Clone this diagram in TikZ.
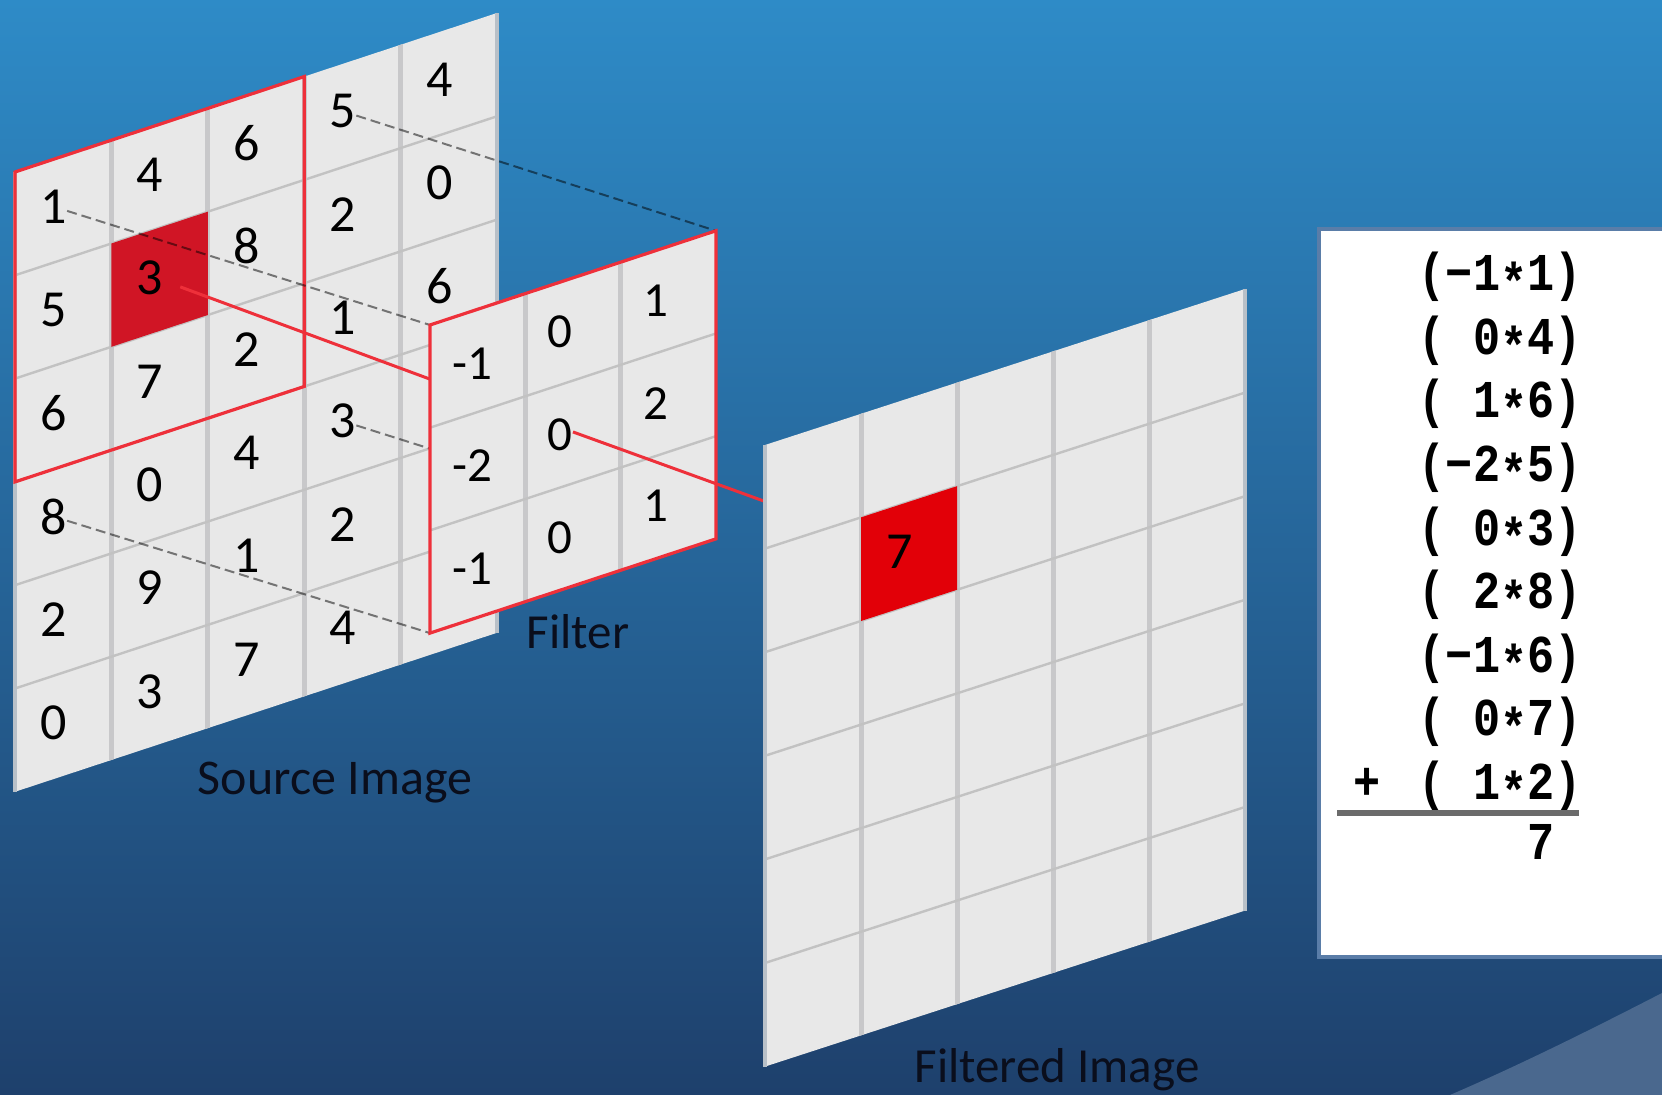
\documentclass[tikz,border=0pt]{standalone}
\usepackage{fontspec}
\setmainfont{Carlito}
\newfontfamily\monof{Liberation Mono}[FakeStretch=0.85]
\newcommand\mstar{\raisebox{-0.17em}{*}}
\usetikzlibrary{calc}
\definecolor{bgtop}{RGB}{46,139,199}
\definecolor{bgbot}{RGB}{30,64,108}
\definecolor{swoosh}{RGB}{74,104,142}
\definecolor{panel}{RGB}{232,232,232}
\definecolor{gridv}{RGB}{200,200,202}
\definecolor{gridh}{RGB}{194,194,194}
\definecolor{edgegray}{RGB}{184,192,200}
\definecolor{hlred}{RGB}{238,48,58}
\definecolor{cellred}{RGB}{208,21,37}
\definecolor{outred}{RGB}{226,0,8}
\definecolor{boxedge}{RGB}{90,125,168}
\definecolor{rulegray}{RGB}{107,107,107}
\definecolor{labelink}{RGB}{10,14,28}
\tikzset{
  srcgeo/.style={shift={(15,172)}, x={(48.2pt,15.9pt)}, y={(0pt,-51.65pt)}},
  filgeo/.style={shift={(430,325)}, x={(47.65pt,15.7pt)}, y={(0pt,-51.35pt)}},
  outgeo/.style={shift={(765,445)}, x={(48pt,15.6pt)}, y={(0pt,-51.8pt)}},
  vline/.style={draw=gridv, line width=2.5pt},
  hline/.style={draw=gridh, line width=1.2pt},
  pedge/.style={draw=edgegray, line width=1.8pt},
  redframe/.style={draw=hlred, line width=1.6pt, line join=miter},
  proj/.style={draw=black, draw opacity=0.5, line width=1pt, dash pattern=on 5pt off 2.5pt},
  redlink/.style={draw=hlred, line width=1.5pt},
  srcnum/.style={anchor=west, inner sep=0pt, text=black, font=\fontsize{26}{30}\selectfont, xshift=12.5pt, yshift=8.5pt},
  filnum/.style={anchor=west, inner sep=0pt, text=black, font=\fontsize{24.5}{28}\selectfont, xshift=11pt, yshift=6.5pt},
  lbl/.style={anchor=base, inner sep=0pt, text=labelink, font=\fontsize{24.5}{28}\selectfont},
  mono/.style={anchor=base east, inner sep=0pt, text=black, font=\monof\bfseries\fontsize{26.6}{30}\selectfont},
}
\begin{document}
\begin{tikzpicture}[x=0.5pt,y=-0.5pt]
\useasboundingbox (0,0) rectangle (1662,1095);
% background
\shade[top color=bgtop, bottom color=bgbot] (0,0) rectangle (1662,1095);
\fill[swoosh] (1450,1095) .. controls (1522,1064) and (1594,1028) .. (1662,993) -- (1662,1095) -- cycle;
% calculation box
\fill[white] (1320,230) rectangle (1662,956);
\draw[boxedge, line width=2pt] (1664,957) -- (1319,957) -- (1319,229) -- (1664,229);
\node[mono] (e1) at (1582,291) {(−1\mstar1)};
\node[mono] (e2) at (1582,355) {(\phantom{−}0\mstar4)};
\node[mono] (e3) at (1582,418) {(\phantom{−}1\mstar6)};
\node[mono] (e4) at (1582,482) {(−2\mstar5)};
\node[mono] (e5) at (1582,546) {(\phantom{−}0\mstar3)};
\node[mono] (e6) at (1582,609) {(\phantom{−}2\mstar8)};
\node[mono] (e7) at (1582,673) {(−1\mstar6)};
\node[mono] (e8) at (1582,736) {(\phantom{−}0\mstar7)};
\node[mono] (e9) at (1582,800) {(\phantom{−}1\mstar2)};
\node[mono, anchor=base] (plus) at (1367,800) {+};
\draw[rulegray, line width=3pt] (1337,813) -- (1579,813);
\node[mono] (tot) at (1555,860) {7};

% geometry coordinates
\begin{scope}[srcgeo]
  \coordinate (s00) at (0,0); \coordinate (s30) at (3,0);
  \coordinate (s03) at (0,3); \coordinate (s33) at (3,3);
  \coordinate (sc) at (1.5,1.5);
\end{scope}
\begin{scope}[filgeo]
  \coordinate (f00) at (0,0); \coordinate (f30) at (3,0);
  \coordinate (f03) at (0,3); \coordinate (f33) at (3,3);
  \coordinate (fc) at (1.5,1.5);
\end{scope}
\begin{scope}[outgeo]
  \coordinate (oc) at (1.5,1.5);
\end{scope}
\coordinate (sstart) at ($(sc)!0.05!(fc)$);

% source image
\begin{scope}[srcgeo]
  \fill[panel] (0,0) -- (5,0) -- (5,6) -- (0,6) -- cycle;
  \begin{scope}
    \clip (0,0) -- (5,0) -- (5,6) -- (0,6) -- cycle;
    \foreach \i in {1,...,4} \draw[vline] (\i,-0.1) -- (\i,6.1);
    \foreach \j in {1,...,5} \draw[hline] (-0.1,\j) -- (5.1,\j);
  \end{scope}
  \draw[pedge] (0,0) -- (0,6);
  \draw[pedge] (5,0) -- (5,6);
  \fill[cellred] (1,1) -- (2,1) -- (2,2) -- (1,2) -- cycle;
\end{scope}
\draw[redlink] (sstart) -- (fc);
\begin{scope}[srcgeo]
  \foreach \row [count=\j from 0] in {{1,4,6,5,4},{5,3,8,2,0},{6,7,2,1,6},{8,0,4,3},{2,9,1,2},{0,3,7,4}} {
    \foreach \v [count=\i from 0] in \row {
      \node[srcnum] (s\i\j) at (\i,\j+0.5) {\v};
    }
  }
  \draw[redframe] (0,0) -- (3,0) -- (3,3) -- (0,3) -- cycle;
\end{scope}
% projection lines
\draw[proj] (s00) -- (f00);
\draw[proj] (s30) -- (f30);
\draw[proj] (s03) -- (f03);
\draw[proj] (s33) -- (f33);

% filter
\begin{scope}[filgeo]
  \fill[panel] (0,0) -- (3,0) -- (3,3) -- (0,3) -- cycle;
  \begin{scope}
    \clip (0,0) -- (3,0) -- (3,3) -- (0,3) -- cycle;
    \foreach \i in {1,2} \draw[vline] (\i,-0.1) -- (\i,3.1);
    \foreach \j in {1,2} \draw[hline] (-0.1,\j) -- (3.1,\j);
  \end{scope}
  \foreach \row [count=\j from 0] in {{-1,0,1},{-2,0,2},{-1,0,1}} {
    \foreach \v [count=\i from 0] in \row {
      \node[filnum] (f\i\j) at (\i,\j+0.5) {\v};
    }
  }
  \draw[redframe] (0,0) -- (3,0) -- (3,3) -- (0,3) -- cycle;
\end{scope}
\draw[redlink] (fc) -- (oc);

% filtered image
\begin{scope}[outgeo]
  \fill[panel] (0,0) -- (5,0) -- (5,6) -- (0,6) -- cycle;
  \begin{scope}
    \clip (0,0) -- (5,0) -- (5,6) -- (0,6) -- cycle;
    \foreach \i in {1,...,4} \draw[vline] (\i,-0.1) -- (\i,6.1);
    \foreach \j in {1,...,5} \draw[hline] (-0.1,\j) -- (5.1,\j);
  \end{scope}
  \draw[pedge] (0,0) -- (0,6);
  \draw[pedge] (5,0) -- (5,6);
  \fill[outred] (1,1) -- (2,1) -- (2,2) -- (1,2) -- cycle;
  \node[srcnum] (o11) at (1,1.5) {7};
\end{scope}

% labels
\node[lbl, font=\fontsize{25}{28}\selectfont] (srclbl) at (335,795) {Source Image};
\node[lbl] (fillbl) at (578,649) {Filter};
\node[lbl] (outlbl) at (1057,1083) {Filtered Image};
\end{tikzpicture}
\end{document}
